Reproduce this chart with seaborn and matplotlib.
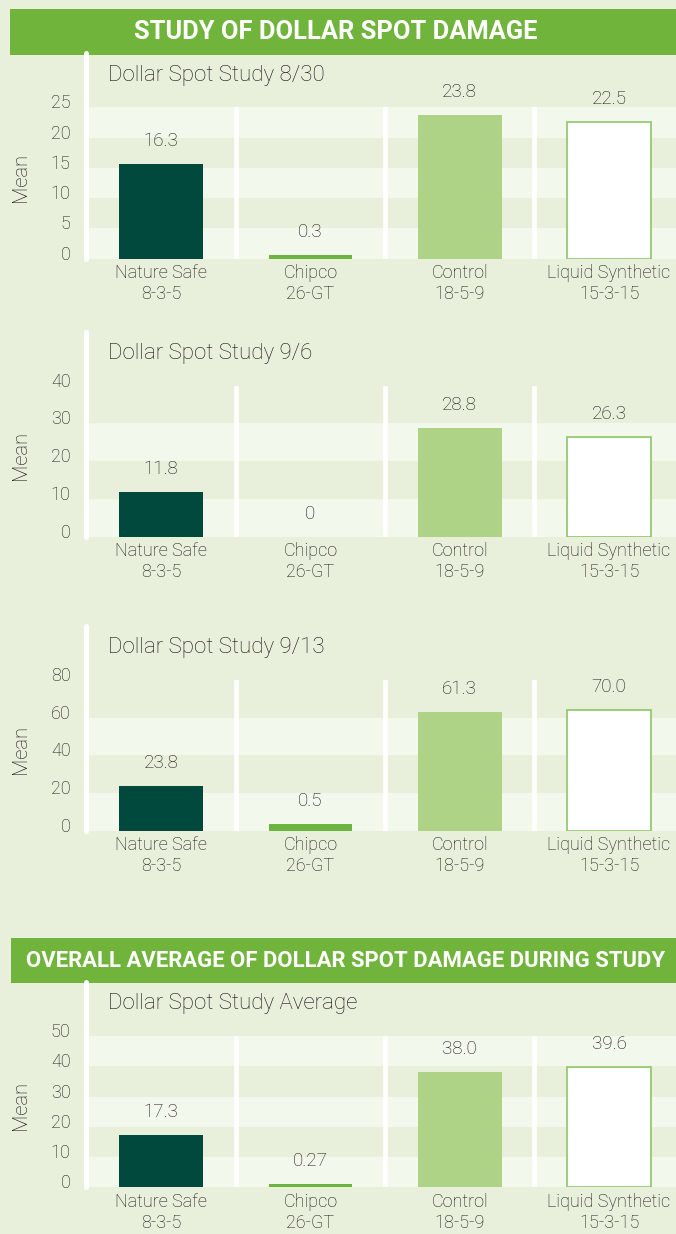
import matplotlib
matplotlib.use("Agg")
import matplotlib.pyplot as plt
import seaborn as sns
import pandas as pd
from matplotlib.patches import Rectangle
from matplotlib.transforms import ScaledTranslation

# ---------------- data ----------------
products = ["Nature Safe", "Chipco", "Control", "Liquid Synthetic"]
formulas = ["8-3-5", "26-GT", "18-5-9", "15-3-15"]

banner_titles = ["STUDY OF DOLLAR SPOT DAMAGE",
                 "OVERALL AVERAGE OF DOLLAR SPOT DAMAGE DURING STUDY"]
study_titles = ["Dollar Spot Study 8/30", "Dollar Spot Study 9/6",
                "Dollar Spot Study 9/13", "Dollar Spot Study Average"]

# bar heights as drawn in the picture
heights_830 = [15.6, 0.6, 23.8, 22.5]
heights_96 = [11.8, 0.0, 28.8, 26.3]
heights_913 = [23.8, 3.5, 63.0, 64.0]
heights_avg = [17.3, 1.2, 38.0, 39.6]

# value labels printed above the bars
labels_830 = ["16.3", "0.3", "23.8", "22.5"]
labels_96 = ["11.8", "0", "28.8", "26.3"]
labels_913 = ["23.8", "0.5", "61.3", "70.0"]
labels_avg = ["17.3", "0.27", "38.0", "39.6"]

y_max = [25, 40, 80, 50]
y_step = [5, 10, 20, 10]
y_label = "Mean"

# ---------------- style ----------------
W, H, DPI = 676, 1234, 100
BG = "#e8f0dc"
BAND = "#f2f8ec"
BANNER = "#70b43c"
TXT = "#141414"
bar_colors = ["#02493d", "#6db33f", "#aed286", "#ffffff"]
liquid_edge = "#8cc665"

sns.set_style("white")
plt.rcParams["font.family"] = ["Roboto", "DejaVu Sans"]
plt.rcParams["font.weight"] = "light"

fig = plt.figure(figsize=(W / DPI, H / DPI), dpi=DPI, facecolor=BG)


def fx(px):
    return px / W


def fy(py):
    return 1 - py / H


# banners (pixel boxes: x0, y0, x1, y1) and text centers
banner_boxes = [(10, 9, 676, 54.7), (11, 938.3, 676, 983.3)]
banner_text_x = [336, 346]
banner_text_w = [404, 640]
renderer = fig.canvas.get_renderer()
for title, box, cx, tw in zip(banner_titles, banner_boxes, banner_text_x, banner_text_w):
    x0, y0, x1, y1 = box
    fig.add_artist(Rectangle((fx(x0), fy(y1)), fx(x1 - x0), (y1 - y0) / H,
                             transform=fig.transFigure, facecolor=BANNER,
                             edgecolor="none", zorder=0))
    t = fig.text(fx(cx), fy((y0 + y1) / 2), title, ha="center", va="center",
                 color="white", fontsize=16, fontweight="bold")
    w = t.get_window_extent(renderer).width
    t.set_fontsize(16 * tw / w)

# panels: (top px, bottom px)
panel_px = [(107.3, 258.7), (385.7, 536.7), (680.0, 830.7), (1036.0, 1187.3)]
heights_all = [heights_830, heights_96, heights_913, heights_avg]
labels_all = [labels_830, labels_96, labels_913, labels_avg]

AX_LEFT = 86.5
SLOT = 149.3
x_right = -0.5 + (W - AX_LEFT) / SLOT

tick_text = [f"{p}\n{f}" for p, f in zip(products, formulas)]

for i, (top, bot) in enumerate(panel_px):
    ax = fig.add_axes([fx(AX_LEFT), fy(bot), fx(W - AX_LEFT), (bot - top) / H])
    ax.set_facecolor("none")
    df = pd.DataFrame({"product": products, "mean": heights_all[i]})
    sns.barplot(data=df, x="product", y="mean", hue="product",
                palette=bar_colors, saturation=1, width=0.56, legend=False,
                ax=ax, zorder=3, linewidth=0)
    # Liquid Synthetic bar: white with green outline
    bars = ax.patches
    bars[3].set_edgecolor(liquid_edge)
    bars[3].set_linewidth(1.2)

    ax.set_xlim(-0.5, x_right)
    ax.set_ylim(0, y_max[i])
    ticks = list(range(0, y_max[i] + 1, y_step[i]))
    # alternating bands
    for k in range(0, len(ticks) - 1, 2):
        ax.axhspan(ticks[k], ticks[k + 1], color=BAND, lw=0, zorder=0)
    # white separators
    ext = 1 + 54 / (bot - top)
    ax.axvline(-0.5, ymin=0, ymax=ext, color="white", lw=3.6, clip_on=False, zorder=2)
    for xs in [0.5, 1.5, 2.5]:
        ax.axvline(xs, ymin=0, ymax=1, color="white", lw=3.4, zorder=2)

    for sp in ax.spines.values():
        sp.set_visible(False)
    ax.set_yticks(ticks)
    ax.set_yticklabels([str(t) for t in ticks])
    ax.tick_params(axis="y", length=0, pad=11.4, labelsize=13, labelcolor=TXT)
    off = ScaledTranslation(0, 6 / DPI, fig.dpi_scale_trans)
    for lbl in ax.get_yticklabels():
        lbl.set_transform(lbl.get_transform() + off)
    ax.set_xticks(range(len(products)))
    ax.set_xticklabels(tick_text, linespacing=1.2)
    ax.tick_params(axis="x", length=0, pad=4, labelsize=13, labelcolor=TXT)
    ax.set_xlabel("")
    ax.set_ylabel("")

    # value labels
    for j, (h, lab) in enumerate(zip(heights_all[i], labels_all[i])):
        ax.annotate(lab, xy=(j, h), xytext=(0, 23 * 72 / DPI),
                    textcoords="offset points", ha="center", va="center",
                    fontsize=13.5, color=TXT, annotation_clip=False)

    # study title and y label
    fig.text(fx(108), fy(top - 32), study_titles[i], ha="left", va="center",
             fontsize=16, color=TXT)
    fig.text(fx(20), fy((top + bot) / 2 - 6), y_label, rotation=90,
             ha="center", va="center", fontsize=14.5, color=TXT)

fig.savefig("out.png", dpi=DPI, facecolor=BG)
